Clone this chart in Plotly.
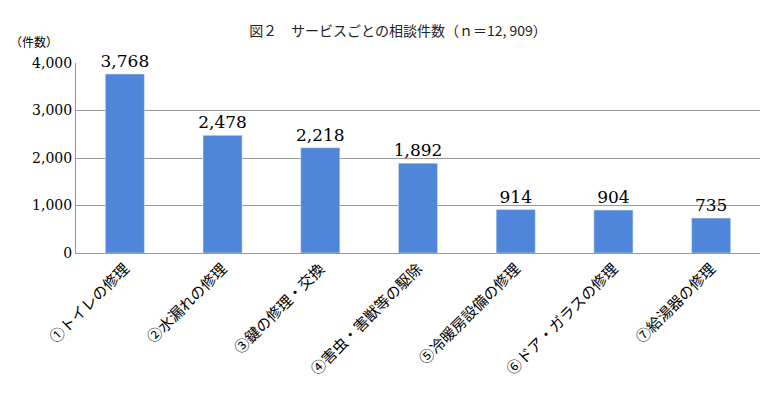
import plotly.graph_objects as go

services = ["①トイレの修理", "②水漏れの修理", "③鍵の修理・交換", "④害虫・害獣等の駆除",
            "⑤冷暖房設備の修理", "⑥ドア・ガラスの修理", "⑦給湯器の修理"]
counts = [3768, 2478, 2218, 1892, 914, 904, 735]

font_jp = "Noto Sans CJK JP"

fig = go.Figure(go.Bar(
    x=services, y=counts,
    marker_color="#4F86D9",
    width=0.4,
    text=[f"{v:,}" for v in counts],
    textposition="outside",
    constraintext="none",
    textfont=dict(size=17, color="black", family="DejaVu Serif"),
    cliponaxis=False,
))

fig.update_layout(
    width=780, height=417,
    margin=dict(l=68, r=28, t=55, b=172),
    plot_bgcolor="white", paper_bgcolor="white",
    showlegend=False,
    title=dict(text="図２　サービスごとの相談件数（ｎ＝12, 909）",
               x=0.5, xanchor="center", y=0.945, yanchor="middle",
               font=dict(size=14, family=font_jp, color="#222")),
    xaxis=dict(tickangle=-45, tickfont=dict(size=15, family=font_jp, color="black"),
               showline=True, linecolor="#999", ticks="", automargin=False),
    yaxis=dict(range=[0, 4000], dtick=1000, tickformat=",",
               tickfont=dict(size=14, family="DejaVu Serif", color="black"),
               gridcolor="#999", showline=True, linecolor="#999", zeroline=False,
               automargin=False),
    annotations=[dict(text="（件数）", xref="paper", yref="paper", x=-0.1, y=1.06,
                      xanchor="left", yanchor="bottom", showarrow=False,
                      font=dict(size=12, family=font_jp, color="black"))],
)

fig.write_html("out.html")
